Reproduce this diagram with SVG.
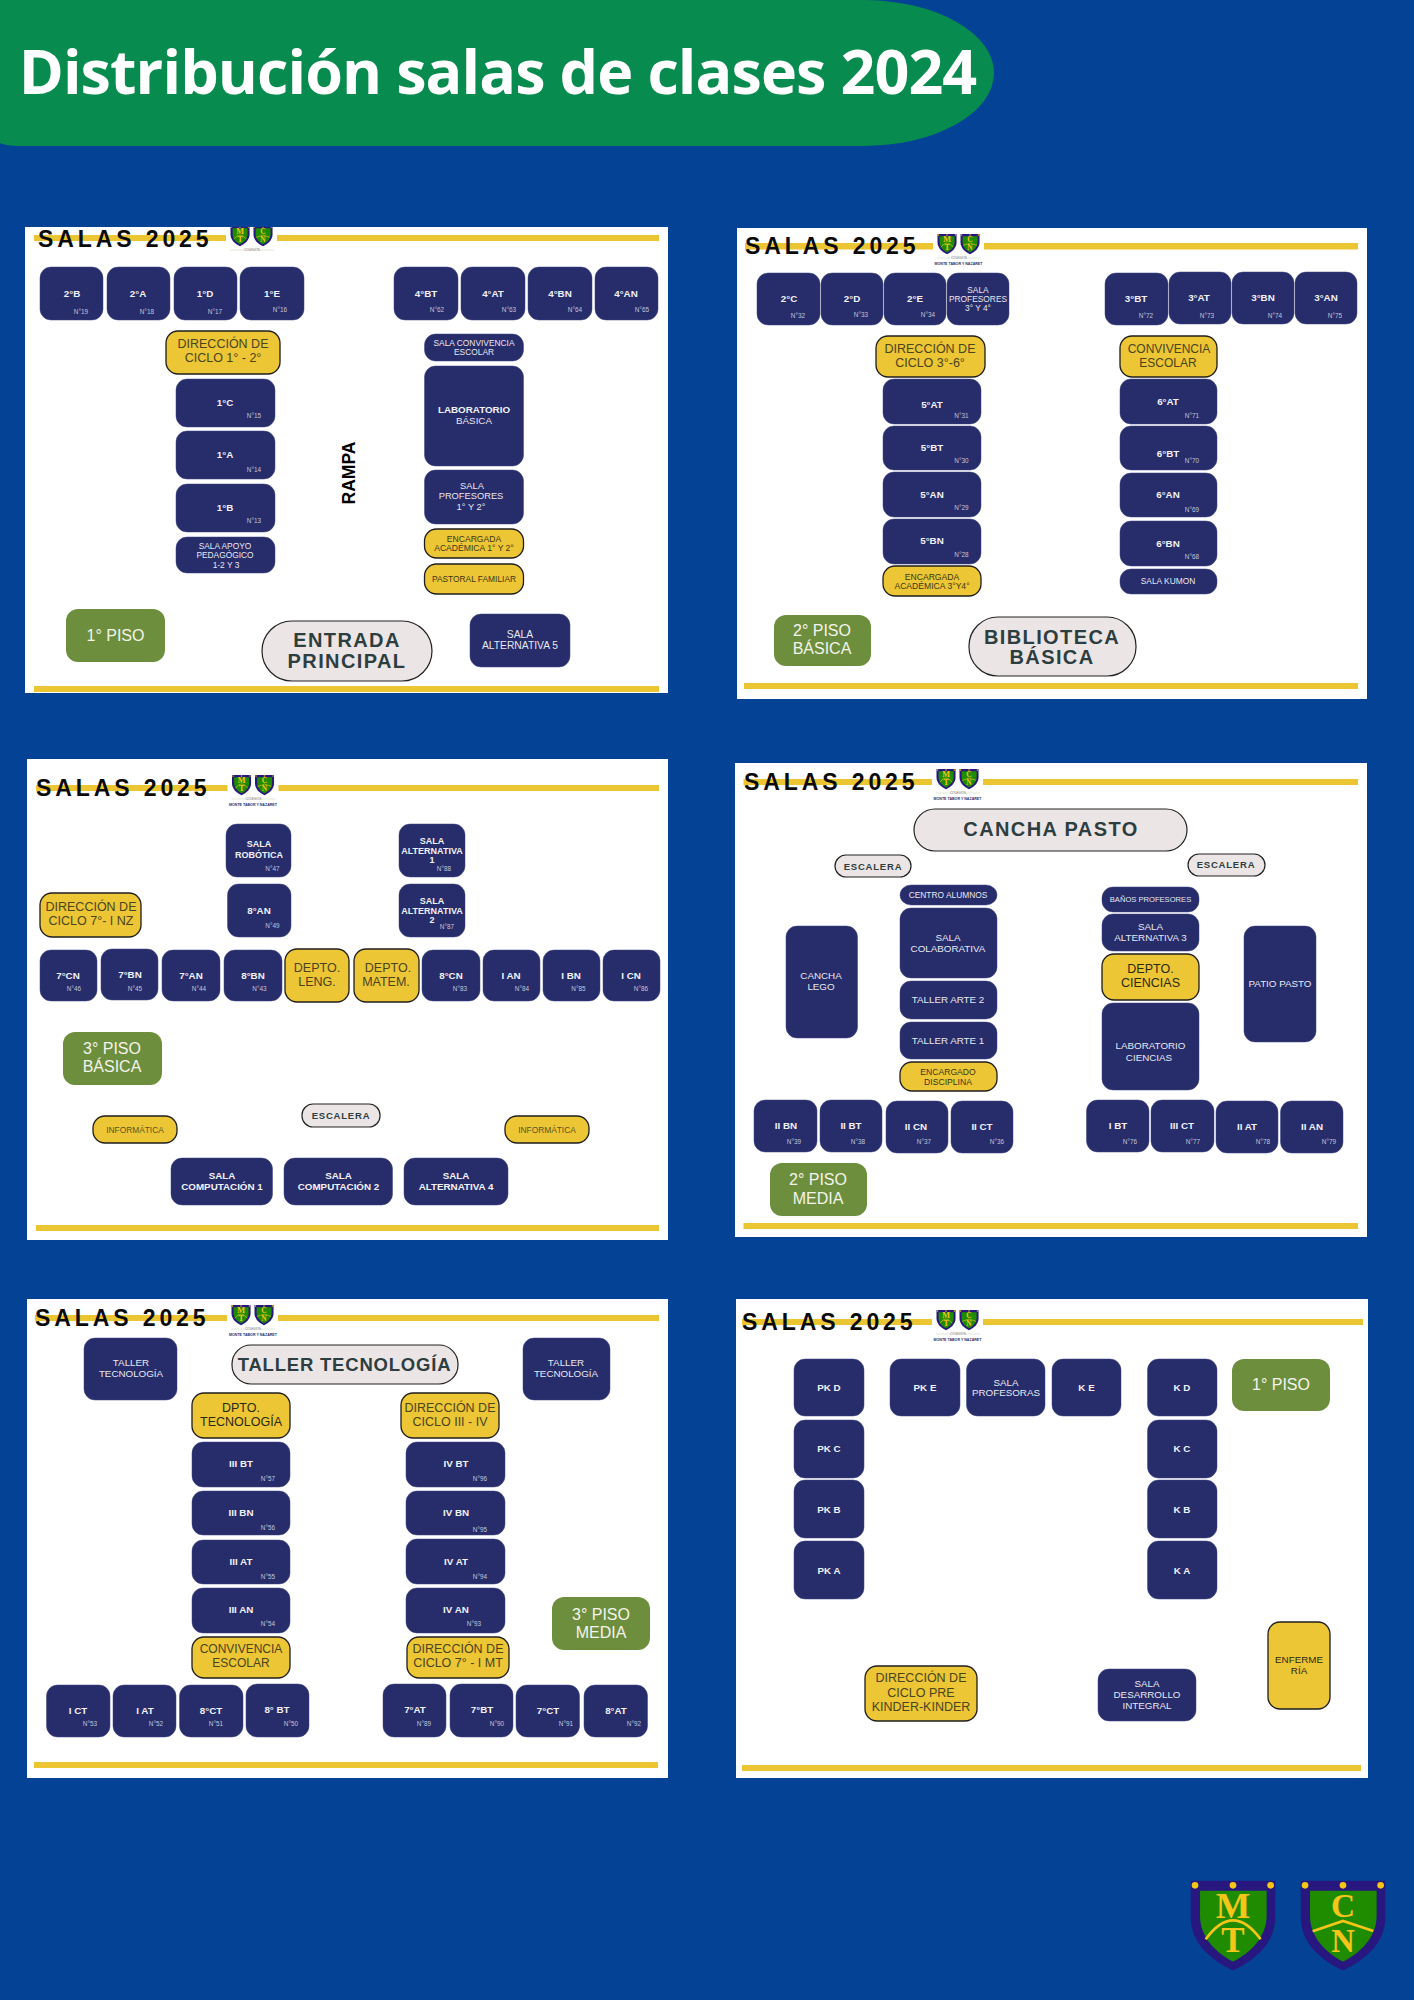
<svg xmlns="http://www.w3.org/2000/svg" width="1414" height="2000" viewBox="0 0 1414 2000">
<style>
text{font-family:"Liberation Sans",Arial,sans-serif;text-anchor:middle;dominant-baseline:central}
.panel{fill:#fff}.bar{fill:#ecc532}
.n{fill:#272c6a;stroke:#3c4280;stroke-width:.5;rx:11px}
.y{fill:#ecc634;stroke:#1e1e1e;stroke-width:1.3;rx:12px}
.g{fill:#6d8f3d;rx:12px}
.p{fill:#ece5e5;stroke:#222;stroke-width:1.2;rx:24px}
.e{fill:#ece5e5;stroke:#222;stroke-width:1.2;rx:11px}
.b{font-size:9.8px;font-weight:700;fill:#f2f2f6}
.s{font-size:6.4px;fill:#c4c6da}
.t{font-size:9.8px;fill:#e8e8f0}
.t8{font-size:8.4px;fill:#e8e8f0}
.tb{font-size:9px;font-weight:700;fill:#f2f2f6}
.yt{font-size:12.5px;fill:#4a4420}
.yk{font-size:12.5px;fill:#2a2a14}
.y8{font-size:8.6px;fill:#3a3618}
.yw{font-size:9.8px;fill:#2a2a14}
.gt{font-size:16px;fill:#f4f4ec}
.pt{font-size:20px;font-weight:700;letter-spacing:1.4px;fill:#2c3e40}
.es{font-size:9.5px;font-weight:700;letter-spacing:.8px;fill:#2c3e40}
.h{font-size:23px;font-weight:700;letter-spacing:3.9px;fill:#0a0a0a;text-anchor:start;dominant-baseline:auto}
.cr{fill:#f5c518;font-family:"Liberation Serif",serif;font-weight:700;dominant-baseline:auto}
.mini{font-size:3.6px;font-weight:700;fill:#2a2f6a}
.mini2{font-size:3px;fill:#666}
</style>
<defs>
<clipPath id="clipTop"><rect x="25" y="227" width="643" height="60"/></clipPath>
<g id="sh">
<path d="M0 0H254V110C254 190 190 240 127 270C64 240 0 190 0 110Z" fill="#27177e"/>
<path d="M28 30H228V105C228 170 180 215 127 243C75 215 28 170 28 105Z" fill="#1f8c00"/>
<g fill="#f5c518"><circle cx="13" cy="14" r="10"/><circle cx="127" cy="14" r="10"/><circle cx="240" cy="14" r="10"/></g>
</g>
<g id="mt"><use href="#sh"/><text class="cr" x="127" y="113" style="font-size:110px">M</text><path d="M45 176Q127 62 210 176" fill="none" stroke="#f5c518" stroke-width="8"/><text class="cr" x="127" y="215" style="font-size:105px">T</text></g>
<g id="cn"><use href="#sh"/><text class="cr" x="127" y="110" style="font-size:100px">C</text><path d="M36 152L127 121L218 151" fill="none" stroke="#f5c518" stroke-width="8"/><text class="cr" x="127" y="215" style="font-size:98px">N</text></g>
<g id="logo">
<rect x="0" y="0" width="51" height="33" fill="#fff"/>
<use href="#mt" transform="translate(4.5 0) scale(.075)"/>
<use href="#cn" transform="translate(27.5 0) scale(.075)"/>
<path d="M4 24H19M33 24H48" stroke="#cfe0c0" stroke-width=".7"/>
<text class="mini2" x="26" y="24">COLEGIOS</text>
</g>
</defs>

<rect width="1414" height="2000" fill="#044296"/>

<g id="header">
<path d="M0 0H863A131 73 0 0 1 863 146H20Q6 146 0 143Z" fill="#088b4e"/>
<text x="497.500" y="94" style="font-family:'Open Sans',sans-serif;font-weight:700;font-size:61px;letter-spacing:-.9px;fill:#fff;dominant-baseline:auto">Distribución salas de clases 2024</text>
</g>

<g id="panel-1">
<rect class="panel" x="25" y="227" width="643" height="466"/>
<rect class="bar" x="34" y="235" width="625" height="6"/>
<rect class="bar" x="34" y="686" width="625" height="6"/>
<g clip-path="url(#clipTop)"><use href="#logo" x="226" y="226"/></g>
<text class="h" x="38" y="247">SALAS 2025</text>
<g id="p1-2B"><rect class="n" x="40" y="267" width="63" height="53"/><text class="b" x="72" y="293">2°B</text><text class="s" x="81" y="311">N°19</text></g>
<g id="p1-2A"><rect class="n" x="107" y="267" width="63" height="53"/><text class="b" x="138" y="293">2°A</text><text class="s" x="147" y="311">N°18</text></g>
<g id="p1-1D"><rect class="n" x="174" y="267" width="63" height="53"/><text class="b" x="205" y="293">1°D</text><text class="s" x="215" y="311">N°17</text></g>
<g id="p1-1E"><rect class="n" x="240" y="267" width="64" height="53"/><text class="b" x="272" y="293">1°E</text><text class="s" x="280" y="309">N°16</text></g>
<g id="p1-4BT"><rect class="n" x="394" y="267" width="64" height="53"/><text class="b" x="426" y="293">4°BT</text><text class="s" x="437" y="309">N°62</text></g>
<g id="p1-4AT"><rect class="n" x="461" y="267" width="64" height="53"/><text class="b" x="493" y="293">4°AT</text><text class="s" x="509" y="309">N°63</text></g>
<g id="p1-4BN"><rect class="n" x="528" y="267" width="64" height="53"/><text class="b" x="560" y="293">4°BN</text><text class="s" x="575" y="309">N°64</text></g>
<g id="p1-4AN"><rect class="n" x="595" y="267" width="63" height="53"/><text class="b" x="626" y="293">4°AN</text><text class="s" x="642" y="309">N°65</text></g>
<g id="p1-dir"><rect class="y" x="166" y="331" width="114" height="43"/><text class="yt" x="223" y="344">DIRECCIÓN DE</text><text class="yt" x="223" y="358">CICLO 1° - 2°</text></g>
<g id="p1-1C"><rect class="n" x="176" y="379" width="99" height="48"/><text class="b" x="225" y="402">1°C</text><text class="s" x="254" y="415">N°15</text></g>
<g id="p1-1A"><rect class="n" x="176" y="431" width="99" height="48"/><text class="b" x="225" y="454">1°A</text><text class="s" x="254" y="469">N°14</text></g>
<g id="p1-1B"><rect class="n" x="176" y="484" width="99" height="48"/><text class="b" x="225" y="507">1°B</text><text class="s" x="254" y="520">N°13</text></g>
<g id="p1-apoyo"><rect class="n" x="176" y="537" width="99" height="36"/><text class="t8" x="225" y="546">SALA APOYO</text><text class="t8" x="225" y="555">PEDAGÓGICO</text><text class="t8" x="226" y="565">1-2 Y 3</text></g>
<text x="349" y="473" transform="rotate(-90 349 473)" style="font-size:17.500px;font-weight:700;fill:#000">RAMPA</text>
<g id="p1-conv"><rect class="n" x="424.500" y="334" width="99" height="27"/><text class="t8" x="474" y="343">SALA CONVIVENCIA</text><text class="t8" x="474" y="352">ESCOLAR</text></g>
<g id="p1-lab"><rect class="n" x="424.500" y="366" width="99" height="100"/><text class="b" x="474" y="409">LABORATORIO</text><text class="t" x="474" y="420">BÁSICA</text></g>
<g id="p1-prof"><rect class="n" x="424.500" y="470" width="99" height="54"/><text class="t" x="472" y="486" style="font-size:9.300px">SALA</text><text class="t" x="471" y="496" style="font-size:9.300px">PROFESORES</text><text class="t" x="471" y="507" style="font-size:9.300px">1° Y 2°</text></g>
<g id="p1-enc"><rect class="y" x="424.500" y="529" width="99" height="29"/><text class="y8" x="474" y="539">ENCARGADA</text><text class="y8" x="474" y="548">ACADÉMICA 1° Y 2°</text></g>
<g id="p1-past"><rect class="y" x="424.500" y="564" width="99" height="30"/><text class="y8" x="474" y="579" style="font-size:8.4px">PASTORAL FAMILIAR</text></g>
<g id="p1-piso"><rect class="g" x="66" y="609" width="99" height="53"/><text class="gt" x="115.500" y="635">1° PISO</text></g>
<g id="p1-entrada"><rect class="p" x="262" y="621" width="170" height="60" style="rx:30px"/><text class="pt" x="347" y="640">ENTRADA</text><text class="pt" x="347" y="661">PRINCIPAL</text></g>
<g id="p1-alt5"><rect class="n" x="470" y="614" width="100" height="53"/><text class="t" x="520" y="634" style="font-size:10.3px">SALA</text><text class="t" x="520" y="645" style="font-size:10.3px">ALTERNATIVA 5</text></g>
</g>

<g id="panel-2">
<rect class="panel" x="737" y="228" width="630" height="471"/>
<rect class="bar" x="745" y="243" width="613" height="6.500"/>
<rect class="bar" x="744" y="683" width="614" height="6"/>
<use href="#logo" x="933" y="234"/>
<text class="mini" x="958.500" y="263.500">MONTE TABOR Y NAZARET</text>
<text class="h" x="745" y="254">SALAS 2025</text>
<g id="p2-2C"><rect class="n" x="757" y="273" width="63" height="52"/><text class="b" x="789" y="298">2°C</text><text class="s" x="798" y="315">N°32</text></g>
<g id="p2-2D"><rect class="n" x="821" y="273" width="62" height="52"/><text class="b" x="852" y="298">2°D</text><text class="s" x="861" y="314">N°33</text></g>
<g id="p2-2E"><rect class="n" x="884" y="273" width="62" height="52"/><text class="b" x="915" y="298">2°E</text><text class="s" x="928" y="314">N°34</text></g>
<g id="p2-prof"><rect class="n" x="947" y="273" width="62" height="52"/><text class="t8" x="978" y="290">SALA</text><text class="t8" x="978" y="299">PROFESORES</text><text class="t8" x="978" y="308">3° Y 4°</text></g>
<g id="p2-3BT"><rect class="n" x="1105" y="273" width="63" height="52"/><text class="b" x="1136" y="298">3°BT</text><text class="s" x="1146" y="315">N°72</text></g>
<g id="p2-3AT"><rect class="n" x="1169" y="272" width="62" height="52"/><text class="b" x="1199" y="297">3°AT</text><text class="s" x="1207" y="315">N°73</text></g>
<g id="p2-3BN"><rect class="n" x="1232" y="272" width="62" height="52"/><text class="b" x="1263" y="297">3°BN</text><text class="s" x="1275" y="315">N°74</text></g>
<g id="p2-3AN"><rect class="n" x="1295" y="272" width="62" height="52"/><text class="b" x="1326" y="297">3°AN</text><text class="s" x="1335" y="315">N°75</text></g>
<g id="p2-dir"><rect class="y" x="876" y="336" width="109" height="41"/><text class="yt" x="930" y="349">DIRECCIÓN DE</text><text class="yt" x="930" y="363">CICLO 3°-6°</text></g>
<g id="p2-conv"><rect class="y" x="1120" y="336" width="97" height="41"/><text class="yt" x="1169" y="349" style="font-size:12px">CONVIVENCIA</text><text class="yt" x="1168" y="363" style="font-size:12px">ESCOLAR</text></g>
<g id="p2-5AT"><rect class="n" x="883" y="379" width="98" height="45"/><text class="b" x="932" y="404">5°AT</text><text class="s" x="961.500" y="415">N°31</text></g>
<g id="p2-5BT"><rect class="n" x="883" y="426" width="98" height="44"/><text class="b" x="932" y="447">5°BT</text><text class="s" x="961.500" y="460">N°30</text></g>
<g id="p2-5AN"><rect class="n" x="883" y="472" width="98" height="45"/><text class="b" x="932" y="494">5°AN</text><text class="s" x="961.500" y="507">N°29</text></g>
<g id="p2-5BN"><rect class="n" x="883" y="519" width="98" height="45"/><text class="b" x="932" y="540">5°BN</text><text class="s" x="961.500" y="554">N°28</text></g>
<g id="p2-enc"><rect class="y" x="883" y="566" width="98" height="30"/><text class="y8" x="932" y="577">ENCARGADA</text><text class="y8" x="932" y="586">ACADÉMICA 3°Y4°</text></g>
<g id="p2-6AT"><rect class="n" x="1120" y="379" width="97" height="45"/><text class="b" x="1168" y="401">6°AT</text><text class="s" x="1192" y="415">N°71</text></g>
<g id="p2-6BT"><rect class="n" x="1120" y="426" width="97" height="44"/><text class="b" x="1168" y="453">6°BT</text><text class="s" x="1192" y="460">N°70</text></g>
<g id="p2-6AN"><rect class="n" x="1120" y="473" width="97" height="44"/><text class="b" x="1168" y="494">6°AN</text><text class="s" x="1192" y="509">N°69</text></g>
<g id="p2-6BN"><rect class="n" x="1120" y="521" width="97" height="45"/><text class="b" x="1168" y="543">6°BN</text><text class="s" x="1192" y="556">N°68</text></g>
<g id="p2-kumon"><rect class="n" x="1120" y="569" width="97" height="25"/><text class="t8" x="1168" y="581">SALA KUMON</text></g>
<g id="p2-piso"><rect class="g" x="774" y="615" width="97" height="51"/><text class="gt" x="822" y="630">2° PISO</text><text class="gt" x="822" y="648">BÁSICA</text></g>
<g id="p2-biblio"><rect class="p" x="969" y="617" width="167" height="59" style="rx:29px"/><text class="pt" x="1052" y="637">BIBLIOTECA</text><text class="pt" x="1052" y="657">BÁSICA</text></g>
</g>

<g id="panel-3">
<rect class="panel" x="27" y="759" width="641" height="481"/>
<rect class="bar" x="36" y="785" width="623" height="6"/>
<rect class="bar" x="36" y="1225" width="623" height="6"/>
<use href="#logo" x="227.500" y="775"/>
<text class="mini" x="253" y="805">MONTE TABOR Y NAZARET</text>
<text class="h" x="36" y="796">SALAS 2025</text>
<g id="p3-robotica"><rect class="n" x="226" y="824" width="65" height="53"/><text class="tb" x="259" y="844">SALA</text><text class="tb" x="259" y="855">ROBÓTICA</text><text class="s" x="272.500" y="868">N°47</text></g>
<g id="p3-8AN"><rect class="n" x="227.500" y="884" width="63.500" height="53"/><text class="b" x="259" y="910">8°AN</text><text class="s" x="272.500" y="925">N°49</text></g>
<g id="p3-alt1"><rect class="n" x="399" y="824" width="66" height="53"/><text class="tb" x="432" y="841">SALA</text><text class="tb" x="432" y="851">ALTERNATIVA</text><text class="tb" x="432" y="860">1</text><text class="s" x="444" y="868">N°88</text></g>
<g id="p3-alt2"><rect class="n" x="399" y="884" width="66" height="53"/><text class="tb" x="432" y="901">SALA</text><text class="tb" x="432" y="911">ALTERNATIVA</text><text class="tb" x="432" y="920">2</text><text class="s" x="447" y="926">N°87</text></g>
<g id="p3-dir"><rect class="y" x="40" y="893" width="101" height="44"/><text class="yt" x="91" y="907">DIRECCIÓN DE</text><text class="yt" x="91" y="921">CICLO 7°- I NZ</text></g>
<g id="p3-7CN"><rect class="n" x="40" y="950" width="57" height="51"/><text class="b" x="68" y="975">7°CN</text><text class="s" x="74" y="988">N°46</text></g>
<g id="p3-7BN"><rect class="n" x="101" y="949" width="57" height="51"/><text class="b" x="130" y="974">7°BN</text><text class="s" x="135" y="988">N°45</text></g>
<g id="p3-7AN"><rect class="n" x="162" y="950" width="58" height="51"/><text class="b" x="191" y="975">7°AN</text><text class="s" x="199" y="988">N°44</text></g>
<g id="p3-8BN"><rect class="n" x="224" y="950" width="58" height="51"/><text class="b" x="253" y="975">8°BN</text><text class="s" x="259.500" y="988">N°43</text></g>
<g id="p3-leng"><rect class="y" x="285" y="949" width="64" height="53"/><text class="yt" x="317" y="968">DEPTO.</text><text class="yt" x="317" y="982">LENG.</text></g>
<g id="p3-matem"><rect class="y" x="354" y="949" width="65" height="53"/><text class="yt" x="388" y="968">DEPTO.</text><text class="yt" x="386" y="982">MATEM.</text></g>
<g id="p3-8CN"><rect class="n" x="422" y="950" width="58" height="51"/><text class="b" x="451" y="975">8°CN</text><text class="s" x="460" y="988">N°83</text></g>
<g id="p3-IAN"><rect class="n" x="483" y="950" width="57" height="51"/><text class="b" x="511" y="975">I AN</text><text class="s" x="522" y="988">N°84</text></g>
<g id="p3-IBN"><rect class="n" x="543" y="950" width="57" height="51"/><text class="b" x="571" y="975">I BN</text><text class="s" x="578.500" y="988">N°85</text></g>
<g id="p3-ICN"><rect class="n" x="603" y="950" width="57" height="51"/><text class="b" x="631" y="975">I CN</text><text class="s" x="641" y="988">N°86</text></g>
<g id="p3-piso"><rect class="g" x="63" y="1032" width="99" height="53"/><text class="gt" x="112" y="1048">3° PISO</text><text class="gt" x="112" y="1066">BÁSICA</text></g>
<g id="p3-inf1"><rect class="y" x="93" y="1116" width="84" height="27"/><text class="y8" x="135" y="1130" style="font-size:8.4px;fill:#5a5428">INFORMÁTICA</text></g>
<g id="p3-esc"><rect class="e" x="302" y="1104" width="78" height="23"/><text class="es" x="341" y="1115">ESCALERA</text></g>
<g id="p3-inf2"><rect class="y" x="505" y="1116" width="84" height="27"/><text class="y8" x="547" y="1130" style="font-size:8.4px;fill:#5a5428">INFORMÁTICA</text></g>
<g id="p3-comp1"><rect class="n" x="171" y="1158" width="101.500" height="47"/><text class="b" x="222" y="1175">SALA</text><text class="b" x="222" y="1186">COMPUTACIÓN 1</text></g>
<g id="p3-comp2"><rect class="n" x="284" y="1158" width="108.500" height="47"/><text class="b" x="338.500" y="1175">SALA</text><text class="b" x="338.500" y="1186">COMPUTACIÓN 2</text></g>
<g id="p3-alt4"><rect class="n" x="404" y="1158" width="104" height="47"/><text class="b" x="456" y="1175">SALA</text><text class="b" x="456" y="1186">ALTERNATIVA 4</text></g>
</g>

<g id="panel-4">
<rect class="panel" x="735" y="763" width="632" height="474"/>
<rect class="bar" x="743.500" y="779" width="614.500" height="6"/>
<rect class="bar" x="743.500" y="1223" width="614.500" height="6"/>
<use href="#logo" x="932" y="769"/>
<text class="mini" x="957.500" y="798.500">MONTE TABOR Y NAZARET</text>
<text class="h" x="744" y="790">SALAS 2025</text>
<g id="p4-cancha"><rect class="p" x="914" y="809" width="273" height="42" style="rx:21px"/><text class="pt" x="1051" y="829">CANCHA PASTO</text></g>
<g id="p4-esc1"><rect class="e" x="835" y="855" width="76" height="22"/><text class="es" x="873" y="866">ESCALERA</text></g>
<g id="p4-esc2"><rect class="e" x="1188" y="854" width="77" height="22"/><text class="es" x="1226" y="864">ESCALERA</text></g>
<g id="p4-centro"><rect class="n" x="900" y="885" width="97" height="20"/><text class="t8" x="948" y="895">CENTRO ALUMNOS</text></g>
<g id="p4-colab"><rect class="n" x="900" y="908" width="97" height="70"/><text class="t" x="948" y="937">SALA</text><text class="t" x="948" y="948">COLABORATIVA</text></g>
<g id="p4-arte2"><rect class="n" x="900" y="981" width="97" height="38"/><text class="t" x="948" y="999">TALLER ARTE 2</text></g>
<g id="p4-arte1"><rect class="n" x="900" y="1022" width="97" height="37"/><text class="t" x="948" y="1040">TALLER ARTE 1</text></g>
<g id="p4-disc"><rect class="y" x="900" y="1062" width="97" height="29"/><text class="y8" x="948" y="1072">ENCARGADO</text><text class="y8" x="948" y="1082">DISCIPLINA</text></g>
<g id="p4-lego"><rect class="n" x="786" y="926" width="71.500" height="112"/><text class="t" x="821" y="975">CANCHA</text><text class="t" x="821" y="986">LEGO</text></g>
<g id="p4-banos"><rect class="n" x="1102" y="887" width="97" height="25"/><text class="t8" x="1150.500" y="899" style="font-size:7.6px">BAÑOS PROFESORES</text></g>
<g id="p4-alt3"><rect class="n" x="1102" y="914" width="97" height="37"/><text class="t" x="1150.500" y="926">SALA</text><text class="t" x="1150.500" y="937">ALTERNATIVA 3</text></g>
<g id="p4-cien"><rect class="y" x="1102" y="954" width="97" height="46"/><text class="yk" x="1150.500" y="969">DEPTO.</text><text class="yk" x="1150.500" y="983">CIENCIAS</text></g>
<g id="p4-labc"><rect class="n" x="1102" y="1003" width="97" height="87"/><text class="t" x="1150.500" y="1045">LABORATORIO</text><text class="t" x="1149" y="1057">CIENCIAS</text></g>
<g id="p4-patio"><rect class="n" x="1244" y="926" width="72" height="116"/><text class="t" x="1280" y="983">PATIO PASTO</text></g>
<g id="p4-IIBN"><rect class="n" x="754" y="1100" width="63" height="52"/><text class="b" x="786" y="1125">II BN</text><text class="s" x="794" y="1141">N°39</text></g>
<g id="p4-IIBT"><rect class="n" x="820" y="1100" width="62" height="52"/><text class="b" x="851" y="1125">II BT</text><text class="s" x="858" y="1141">N°38</text></g>
<g id="p4-IICN"><rect class="n" x="886" y="1101" width="62" height="52"/><text class="b" x="916" y="1126">II CN</text><text class="s" x="924" y="1141">N°37</text></g>
<g id="p4-IICT"><rect class="n" x="951" y="1101" width="62" height="52"/><text class="b" x="982" y="1126">II CT</text><text class="s" x="997" y="1141">N°36</text></g>
<g id="p4-IBT"><rect class="n" x="1086.500" y="1100" width="62.500" height="52"/><text class="b" x="1118" y="1125">I BT</text><text class="s" x="1130" y="1141">N°76</text></g>
<g id="p4-IIICT"><rect class="n" x="1151" y="1100" width="63" height="52"/><text class="b" x="1182" y="1125">III CT</text><text class="s" x="1193" y="1141">N°77</text></g>
<g id="p4-IIAT"><rect class="n" x="1216" y="1101" width="62" height="52"/><text class="b" x="1247" y="1126">II AT</text><text class="s" x="1263" y="1141">N°78</text></g>
<g id="p4-IIAN"><rect class="n" x="1280.500" y="1101" width="62.500" height="52"/><text class="b" x="1312" y="1126">II AN</text><text class="s" x="1329" y="1141">N°79</text></g>
<g id="p4-piso"><rect class="g" x="770" y="1163" width="97" height="53"/><text class="gt" x="818" y="1179">2° PISO</text><text class="gt" x="818" y="1198">MEDIA</text></g>
</g>

<g id="panel-5">
<rect class="panel" x="27" y="1299" width="641" height="479"/>
<rect class="bar" x="35" y="1315" width="624" height="6"/>
<rect class="bar" x="34" y="1762" width="624" height="6"/>
<use href="#logo" x="227" y="1305"/>
<text class="mini" x="253" y="1335">MONTE TABOR Y NAZARET</text>
<text class="h" x="35" y="1326">SALAS 2025</text>
<g id="p5-tall1"><rect class="n" x="84" y="1338" width="93" height="62"/><text class="t" x="131" y="1362">TALLER</text><text class="t" x="131" y="1373">TECNOLOGÍA</text></g>
<g id="p5-tall"><rect class="p" x="232" y="1345" width="226" height="39" style="rx:19px"/><text class="pt" x="344.500" y="1364" style="font-size:18.500px;letter-spacing:.8px">TALLER TECNOLOGÍA</text></g>
<g id="p5-tall2"><rect class="n" x="523" y="1338" width="87" height="62"/><text class="t" x="566" y="1362">TALLER</text><text class="t" x="566" y="1373">TECNOLOGÍA</text></g>
<g id="p5-dpto"><rect class="y" x="192" y="1393" width="98" height="45"/><text class="yk" x="241" y="1408">DPTO.</text><text class="yk" x="241" y="1422">TECNOLOGÍA</text></g>
<g id="p5-dir3"><rect class="y" x="401" y="1393" width="98" height="45"/><text class="yt" x="450" y="1408">DIRECCIÓN DE</text><text class="yt" x="450" y="1422">CICLO III - IV</text></g>
<g id="p5-IIIBT"><rect class="n" x="192" y="1442" width="98" height="45"/><text class="b" x="241" y="1463">III BT</text><text class="s" x="268" y="1478">N°57</text></g>
<g id="p5-IIIBN"><rect class="n" x="192" y="1491" width="98" height="44"/><text class="b" x="241" y="1512">III BN</text><text class="s" x="268" y="1527">N°56</text></g>
<g id="p5-IIIAT"><rect class="n" x="192" y="1540" width="98" height="44"/><text class="b" x="241" y="1561">III AT</text><text class="s" x="268" y="1576">N°55</text></g>
<g id="p5-IIIAN"><rect class="n" x="192" y="1588" width="98" height="45"/><text class="b" x="241" y="1609">III AN</text><text class="s" x="268" y="1623">N°54</text></g>
<g id="p5-conv"><rect class="y" x="192" y="1637" width="98" height="41"/><text class="yt" x="241" y="1649" style="font-size:12px">CONVIVENCIA</text><text class="yt" x="241" y="1663" style="font-size:12px">ESCOLAR</text></g>
<g id="p5-IVBT"><rect class="n" x="406" y="1442" width="99" height="45"/><text class="b" x="456" y="1463">IV BT</text><text class="s" x="480" y="1478">N°96</text></g>
<g id="p5-IVBN"><rect class="n" x="406" y="1491" width="99" height="44"/><text class="b" x="456" y="1512">IV BN</text><text class="s" x="480" y="1529">N°95</text></g>
<g id="p5-IVAT"><rect class="n" x="406" y="1539" width="99" height="45"/><text class="b" x="456" y="1561">IV AT</text><text class="s" x="480" y="1576">N°94</text></g>
<g id="p5-IVAN"><rect class="n" x="406" y="1588" width="99" height="45"/><text class="b" x="456" y="1609">IV AN</text><text class="s" x="474" y="1623">N°93</text></g>
<g id="p5-dir7"><rect class="y" x="407" y="1637" width="102" height="41"/><text class="yt" x="458" y="1649">DIRECCIÓN DE</text><text class="yt" x="458" y="1663">CICLO 7° - I MT</text></g>
<g id="p5-ICT"><rect class="n" x="46.500" y="1685" width="63.500" height="52"/><text class="b" x="78" y="1710">I CT</text><text class="s" x="90" y="1723">N°53</text></g>
<g id="p5-IAT"><rect class="n" x="113" y="1685" width="63" height="52"/><text class="b" x="145" y="1710">I AT</text><text class="s" x="156" y="1723">N°52</text></g>
<g id="p5-8CT"><rect class="n" x="179.500" y="1685" width="63.500" height="52"/><text class="b" x="211" y="1710">8°CT</text><text class="s" x="216" y="1723">N°51</text></g>
<g id="p5-8BT"><rect class="n" x="246" y="1684" width="63" height="53"/><text class="b" x="277" y="1709">8° BT</text><text class="s" x="291" y="1723">N°50</text></g>
<g id="p5-7AT"><rect class="n" x="383" y="1684" width="63" height="53"/><text class="b" x="415" y="1709">7°AT</text><text class="s" x="424" y="1723">N°89</text></g>
<g id="p5-7BT"><rect class="n" x="450" y="1684" width="63" height="53"/><text class="b" x="482" y="1709">7°BT</text><text class="s" x="497" y="1723">N°90</text></g>
<g id="p5-7CT"><rect class="n" x="516" y="1685" width="63.500" height="52"/><text class="b" x="548" y="1710">7°CT</text><text class="s" x="566" y="1723">N°91</text></g>
<g id="p5-8AT"><rect class="n" x="584" y="1685" width="63.500" height="52"/><text class="b" x="616" y="1710">8°AT</text><text class="s" x="634" y="1723">N°92</text></g>
<g id="p5-piso"><rect class="g" x="552" y="1597" width="98" height="53"/><text class="gt" x="601" y="1614">3° PISO</text><text class="gt" x="601" y="1632">MEDIA</text></g>
</g>

<g id="panel-6">
<rect class="panel" x="736" y="1299" width="632" height="479"/>
<rect class="bar" x="742" y="1319" width="621" height="6"/>
<rect class="bar" x="742" y="1765" width="619" height="6"/>
<use href="#logo" x="932" y="1310"/>
<text class="mini" x="957.500" y="1339.500">MONTE TABOR Y NAZARET</text>
<text class="h" x="742" y="1330">SALAS 2025</text>
<g id="p6-PKD"><rect class="n" x="794" y="1359" width="70" height="57"/><text class="b" x="829" y="1387">PK D</text></g>
<g id="p6-PKC"><rect class="n" x="794" y="1420" width="70" height="58"/><text class="b" x="829" y="1448">PK C</text></g>
<g id="p6-PKB"><rect class="n" x="794" y="1480" width="70" height="58"/><text class="b" x="829" y="1509">PK B</text></g>
<g id="p6-PKA"><rect class="n" x="794" y="1541" width="70" height="58"/><text class="b" x="829" y="1570">PK A</text></g>
<g id="p6-PKE"><rect class="n" x="890" y="1359" width="70" height="57"/><text class="b" x="925" y="1387">PK E</text></g>
<g id="p6-prof"><rect class="n" x="966.500" y="1359" width="78.500" height="57"/><text class="t" x="1006" y="1382">SALA</text><text class="t" x="1006" y="1392">PROFESORAS</text></g>
<g id="p6-KE"><rect class="n" x="1052" y="1359" width="69" height="57"/><text class="b" x="1086.500" y="1387">K E</text></g>
<g id="p6-KD"><rect class="n" x="1147.500" y="1359" width="69.500" height="57"/><text class="b" x="1182" y="1387">K D</text></g>
<g id="p6-KC"><rect class="n" x="1147.500" y="1420" width="69.500" height="58"/><text class="b" x="1182" y="1448">K C</text></g>
<g id="p6-KB"><rect class="n" x="1147.500" y="1480" width="69.500" height="58"/><text class="b" x="1182" y="1509">K B</text></g>
<g id="p6-KA"><rect class="n" x="1147.500" y="1541" width="69.500" height="58"/><text class="b" x="1182" y="1570">K A</text></g>
<g id="p6-piso"><rect class="g" x="1232" y="1359" width="98" height="52"/><text class="gt" x="1281" y="1384">1° PISO</text></g>
<g id="p6-enf"><rect class="y" x="1268" y="1622" width="62" height="87"/><text class="yw" x="1299" y="1659">ENFERME</text><text class="yw" x="1299" y="1670">RÍA</text></g>
<g id="p6-dir"><rect class="y" x="865" y="1666" width="112" height="55"/><text class="yt" x="921" y="1678">DIRECCIÓN DE</text><text class="yt" x="921" y="1693">CICLO PRE</text><text class="yt" x="921" y="1707">KINDER-KINDER</text></g>
<g id="p6-des"><rect class="n" x="1098" y="1669" width="98" height="52"/><text class="t" x="1147" y="1683">SALA</text><text class="t" x="1147" y="1694">DESARROLLO</text><text class="t" x="1147" y="1705">INTEGRAL</text></g>
</g>

<g id="crest-mt"><use href="#mt" transform="translate(1190.700 1880.700) scale(.333)"/></g>
<g id="crest-cn"><use href="#cn" transform="translate(1300.700 1880.700) scale(.333)"/></g>
</svg>
